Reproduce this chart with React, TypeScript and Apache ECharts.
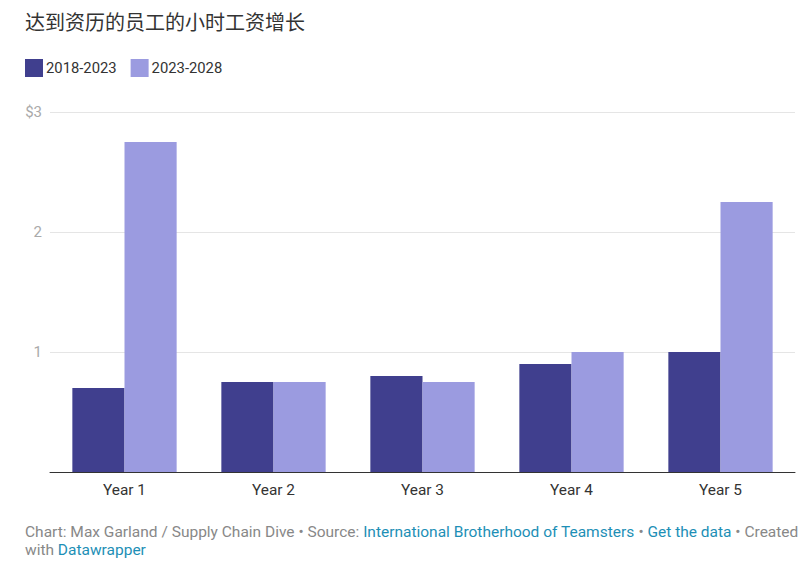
import React, { useEffect, useRef } from "react";
import * as echarts from "echarts";

const categories = ["Year 1", "Year 2", "Year 3", "Year 4", "Year 5"];
const series2018 = [0.7, 0.75, 0.8, 0.9, 1.0];
const series2023 = [2.75, 0.75, 0.75, 1.0, 2.25];
const seriesNames = ["2018-2023", "2023-2028"];
const yTicks = [0, 1, 2, 3];
const titleText = "达到资历的员工的小时工资增长";

export default function App() {
  const ref = useRef<HTMLDivElement>(null);
  useEffect(() => {
    if (!ref.current) return;
    const chart = echarts.init(ref.current, null, { renderer: "svg" });
    const font = "Roboto, 'Noto Sans', sans-serif";
    chart.setOption({
      animation: false,
      backgroundColor: "#ffffff",
      textStyle: { fontFamily: font },
      title: {
        text: titleText,
        left: 25,
        top: 11,
        padding: 0,
        textStyle: {
          fontFamily: "'Noto Sans CJK SC', serif",
          fontSize: 20,
          fontWeight: "normal",
          color: "#333333",
        },
      },
      legend: {
        left: 25,
        top: 59,
        padding: 0,
        icon: "rect",
        itemWidth: 18,
        itemHeight: 18,
        itemGap: 14,
        textStyle: { fontSize: 14.8, color: "#333333", fontFamily: font, padding: [0, 0, 0, -2] },
        data: seriesNames,
      },
      grid: { left: 50, right: 15, top: 112, bottom: 102, containLabel: false },
      xAxis: {
        type: "category",
        data: categories,
        axisLine: { lineStyle: { color: "#333333", width: 1 } },
        axisTick: { show: false },
        axisLabel: { fontSize: 15.4, color: "#333333", margin: 10, fontFamily: font },
      },
      yAxis: {
        type: "value",
        min: yTicks[0],
        max: yTicks[yTicks.length - 1],
        interval: 1,
        axisLine: { show: false },
        axisTick: { show: false },
        splitLine: { lineStyle: { color: "#e5e5e5" } },
        axisLabel: {
          fontSize: 15,
          color: "#aaaaaa",
          margin: 8,
          fontFamily: font,
          formatter: (v: number) => (v === 0 ? "" : v === 3 ? "$3" : String(v)),
        },
      },
      series: [
        {
          name: seriesNames[0],
          type: "bar",
          data: series2018,
          itemStyle: { color: "#403f8e" },
          barGap: "0%",
          barCategoryGap: "30%",
        },
        {
          name: seriesNames[1],
          type: "bar",
          data: series2023,
          itemStyle: { color: "#9b9be0" },
          barGap: "0%",
          barCategoryGap: "30%",
        },
      ],
      graphic: [
        {
          type: "text",
          left: 25,
          top: 523,
          style: {
            text:
              "{g|Chart: Max Garland / Supply Chain Dive • Source: }{b|International Brotherhood of Teamsters}{g| • }{b|Get the data}{g| • Created}\n{g|with }{b|Datawrapper}",
            fontFamily: font,
            fontSize: 15.5,
            lineHeight: 18,
            rich: {
              g: { fill: "#888888", fontSize: 15.5, fontFamily: font, lineHeight: 18 },
              b: { fill: "#1d8fb6", fontSize: 15.5, fontFamily: font, lineHeight: 18 },
            },
          },
        },
      ],
    });
    return () => chart.dispose();
  }, []);
  return <div ref={ref} style={{ width: 810, height: 574, position: "absolute", left: 0, top: 0 }} />;
}
